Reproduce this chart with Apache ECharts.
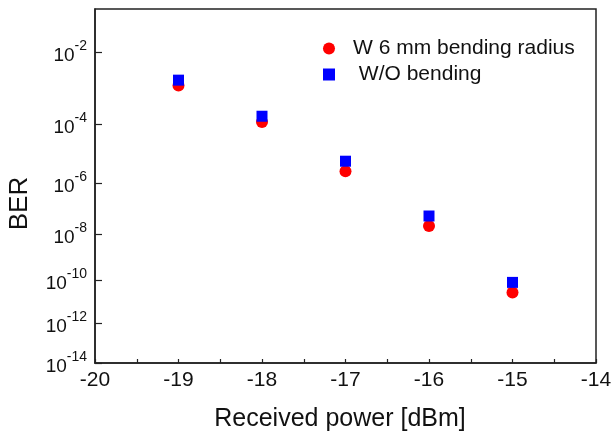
<!DOCTYPE html>
<html>
<head>
<meta charset="utf-8">
<script src="https://cdn.jsdelivr.net/npm/echarts@6/dist/echarts.min.js"></script>
<style>
html,body{margin:0;padding:0;background:#fff;}
#c{width:612px;height:433px;}
</style>
</head>
<body>
<div id="c"></div>
<script>
// ---- data ----
var power = [-19, -18, -17, -16, -15];
var berBend = [1.4e-3, 1.2e-4, 2.7e-6, 2.2e-8, 2.8e-11];
var berNoBend = [1.95e-3, 1.8e-4, 6.1e-6, 5.5e-8, 8.2e-11];
var seriesNames = ['W 6 mm bending radius', ' W/O bending'];
var xTickLabels = [-20, -19, -18, -17, -16, -15, -14];
var xMinorTicks = [-20, -19.5, -19, -18.5, -18, -17.5, -17, -16.5, -16, -15.5, -15, -14.5, -14];
var yTickExps = [-2, -4, -6, -8, -10, -12, -14];
var yTopBer = 8.2e-2;

// BER axis scale used by the figure: position ~ (-log10 BER)^0.6
var P = 0.6;
function f(b) { return -Math.pow(-Math.log10(b), P); }
function expOf(v) { return -Math.round(Math.pow(-v, 1 / P)); }

var chart = echarts.init(document.getElementById('c'), null, {renderer: 'canvas'});
var axisColor = '#222';
var yTickVals = yTickExps.map(function (e) { return f(Math.pow(10, e)); });
var option = {
  backgroundColor: '#fff',
  animation: false,
  grid: {left: 95, top: 9, right: 16, bottom: 70, outerBoundsMode: 'none', containLabel: false,
         show: true, borderColor: axisColor, borderWidth: 1.5, backgroundColor: 'transparent'},
  legend: {
    orient: 'vertical', left: 318, top: 33, itemWidth: 38, itemHeight: 12, itemGap: 5,
    symbolKeepAspect: true,
    textStyle: {fontFamily: 'Liberation Sans', fontSize: 21, color: '#111'},
    data: [
      {name: seriesNames[0], icon: 'path://M1,0A1,1 0 1,1 0.9999,0Z'},
      {name: seriesNames[1], icon: 'path://M0,0H1V1H0Z'}
    ]
  },
  xAxis: {
    type: 'value', min: -20, max: -14,
    name: 'Received power [dBm]', nameLocation: 'middle', nameGap: 44,
    nameTextStyle: {fontFamily: 'Liberation Sans', fontSize: 25, color: '#111', padding: [0, 11, 0, 0]},
    axisLine: {show: true, onZero: false, lineStyle: {color: axisColor, width: 1.5}},
    axisTick: {show: true, inside: true, length: 4, customValues: xMinorTicks, lineStyle: {color: axisColor, width: 1.2}},
    axisLabel: {customValues: xTickLabels, fontFamily: 'Liberation Sans', fontSize: 21, color: '#111', margin: 7},
    splitLine: {show: false}
  },
  yAxis: {
    type: 'value', min: f(Math.pow(10, -14)), max: f(yTopBer),
    name: 'BER', nameLocation: 'middle', nameGap: 62, nameRotate: 90,
    nameTextStyle: {fontFamily: 'Liberation Sans', fontSize: 26, color: '#111', padding: [0, 35, 0, 0]},
    axisLine: {show: true, onZero: false, lineStyle: {color: axisColor, width: 1.5}},
    axisTick: {show: true, inside: true, length: 7, customValues: yTickVals, lineStyle: {color: axisColor, width: 1.2}},
    axisLabel: {
      customValues: yTickVals,
      margin: 8,
      formatter: function (v) { return '{b|10}{s|' + expOf(v) + '}'; },
      rich: {
        b: {fontFamily: 'Liberation Sans', fontSize: 19, color: '#111', lineHeight: 26, verticalAlign: 'bottom'},
        s: {fontFamily: 'Liberation Sans', fontSize: 14, color: '#111', verticalAlign: 'top'}
      }
    },
    splitLine: {show: false}
  },
  series: [
    {
      name: seriesNames[0], type: 'scatter', symbol: 'circle', symbolSize: 12,
      itemStyle: {color: '#ff0000', opacity: 1},
      data: power.map(function (p, i) { return [p, f(berBend[i])]; })
    },
    {
      name: seriesNames[1], type: 'scatter', symbol: 'rect', symbolSize: 11,
      itemStyle: {color: '#0000ff', opacity: 1},
      data: power.map(function (p, i) { return [p, f(berNoBend[i])]; })
    }
  ]
};
chart.setOption(option);
</script>
</body>
</html>
